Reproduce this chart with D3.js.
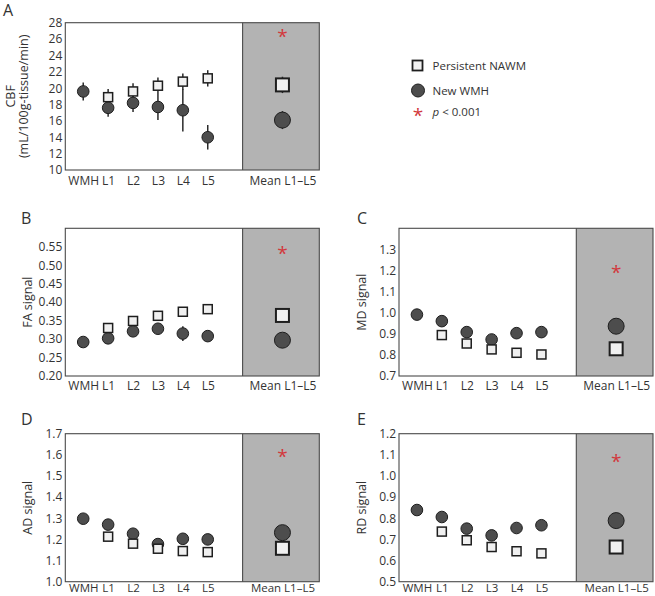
<!DOCTYPE html>
<html><head><meta charset="utf-8">
<script src="https://cdn.jsdelivr.net/npm/d3@7"></script>
<style>
body{margin:0;background:#fff;}
svg{display:block;font-family:"Open Sans",sans-serif;}
</style></head>
<body><svg id="c" width="655" height="596"></svg>
<script>
// ---- data ----
const categories = ["WMH","L1","L2","L3","L4","L5","Mean L1–L5"];
const cbfNew     = [19.6, 17.6, 18.2, 17.7, 17.3, 14.0, 16.1];
const cbfNewErr  = [1.1, 1.1, 1.1, 1.6, 2.6, 1.5, 1.1];
const cbfNawm    = [null, 18.9, 19.6, 20.3, 20.8, 21.2, 20.4];
const cbfNawmErr = [null, 1.0, 1.0, 1.0, 1.0, 1.0, 1.0];
const faNew      = [0.292, 0.302, 0.321, 0.328, 0.315, 0.308, 0.297];
const faNewErr   = [0, 0, 0, 0, 0.02, 0.01, 0];
const faNawm     = [null, 0.330, 0.349, 0.363, 0.374, 0.381, 0.364];
const mdNew      = [0.991, 0.960, 0.908, 0.873, 0.903, 0.908, 0.936];
const mdNawm     = [null, 0.894, 0.854, 0.826, 0.810, 0.802, 0.829];
const adNew      = [1.298, 1.270, 1.227, 1.178, 1.203, 1.200, 1.232];
const adNawm     = [null, 1.213, 1.180, 1.156, 1.145, 1.140, 1.158];
const rdNew      = [0.839, 0.806, 0.751, 0.719, 0.754, 0.767, 0.789];
const rdNawm     = [null, 0.737, 0.696, 0.664, 0.644, 0.634, 0.664];
const starValues = {A: 26.7, B: 0.541, C: 1.209, D: 1.607, E: 1.084};
const cbfTicks = [10,12,14,16,18,20,22,24,26,28];
const faTicks  = [0.20,0.25,0.30,0.35,0.40,0.45,0.50,0.55];
const mdTicks  = [0.7,0.8,0.9,1.0,1.1,1.2,1.3];
const adTicks  = [1.0,1.1,1.2,1.3,1.4,1.5,1.6,1.7];
const rdTicks  = [0.5,0.6,0.7,0.8,0.9,1.0,1.1,1.2];
const legendLabels = ["Persistent NAWM","New WMH"];

// ---- layout ----
const svg = d3.select("#c");
const W = 254;
const panels = [
  {id:"A", left:65.3, top:22.7, h:147.3, dom:[10,28], ticks:cbfTicks, fmt:d3.format("d"),
   nw:cbfNew, nwE:cbfNewErr, pn:cbfNawm, pnE:cbfNawmErr, ylab:["CBF","(mL/100g-tissue/min)"], squaresFirst:true,
   lx:3, ly:16, pad:6.5, xfs:12},
  {id:"B", left:65.3, top:228.3, h:147.7, dom:[0.2,0.6], ticks:faTicks, fmt:d3.format(".2f"),
   nw:faNew, nwE:faNewErr, pn:faNawm, pnE:null, ylab:["FA signal"], lx:21, ly:224, pad:5.5, xfs:12},
  {id:"C", left:399, top:228.3, h:147.7, dom:[0.7,1.4], ticks:mdTicks, fmt:d3.format(".1f"),
   nw:mdNew, nwE:null, pn:mdNawm, pnE:null, ylab:["MD signal"], lx:357, ly:224, pad:5.5, xfs:12},
  {id:"D", left:65.3, top:433.7, h:148, dom:[1.0,1.7], ticks:adTicks, fmt:d3.format(".1f"),
   nw:adNew, nwE:null, pn:adNawm, pnE:null, ylab:["AD signal"], lx:21, ly:425, pad:2.5, xfs:11.5},
  {id:"E", left:399, top:433.7, h:148, dom:[0.5,1.2], ticks:rdTicks, fmt:d3.format(".1f"),
   nw:rdNew, nwE:null, pn:rdNawm, pnE:null, ylab:["RD signal"], lx:357, ly:425, pad:2.5, xfs:11.5}
];
// category slot: first six consecutive, mean after a gap
const slot = i => i < 6 ? i : 8;
const x = d3.scaleLinear().domain([-0.72, 9.48]).range([0, W]);
const divider = 6.4;

const circFill = "#4d4d4d", circStroke = "#1e1e1e";
const sqFill = "#f0f0f0", sqStroke = "#1e1e1e";
const starColor = "#d2383c";
const txt = "#333";

panels.forEach(p => {
  const g = svg.append("g").attr("transform", `translate(${p.left},${p.top})`);
  const y = d3.scaleLinear().domain(p.dom).range([p.h, 0]);
  // gray region
  g.append("rect").attr("x", x(divider)).attr("y", 0)
    .attr("width", W - x(divider)).attr("height", p.h).attr("fill", "#b3b3b3");
  // frame + divider
  g.append("rect").attr("x", 0).attr("y", 0).attr("width", W).attr("height", p.h)
    .attr("fill", "none").attr("stroke", "#4a4a4a").attr("stroke-width", 1.1);
  g.append("line").attr("x1", x(divider)).attr("x2", x(divider)).attr("y1", 0).attr("y2", p.h)
    .attr("stroke", "#4a4a4a").attr("stroke-width", 1.1);
  // y axis
  const ya = g.append("g").call(d3.axisLeft(y).tickValues(p.ticks).tickFormat(p.fmt).tickSize(0).tickPadding(3));
  ya.select(".domain").remove();
  ya.selectAll("text").attr("fill", txt).style("font-size", "12px").style("font-family", "Open Sans");
  // x axis labels
  const xa = g.append("g").attr("transform", `translate(0,${p.h})`)
    .call(d3.axisBottom(x).tickValues(categories.map((c, i) => slot(i)))
      .tickFormat((d, i) => categories[i]).tickSize(0).tickPadding(p.pad));
  xa.select(".domain").remove();
  xa.selectAll("text").attr("fill", txt).style("font-size", p.xfs + "px").style("font-family", "Open Sans");
  // y label
  const cy = p.h / 2;
  if (p.ylab.length === 2) {
    g.append("text").attr("transform", `translate(${-p.left + 10},${cy}) rotate(-90)`)
      .attr("text-anchor", "middle").attr("dominant-baseline", "central")
      .attr("fill", txt).style("font-size", "12.5px").text(p.ylab[0]);
    g.append("text").attr("transform", `translate(${-p.left + 23},${cy}) rotate(-90)`)
      .attr("text-anchor", "middle").attr("dominant-baseline", "central")
      .attr("fill", txt).style("font-size", "12.5px").text(p.ylab[1]);
  } else {
    g.append("text").attr("transform", `translate(${-38},${cy}) rotate(-90)`)
      .attr("text-anchor", "middle").attr("dominant-baseline", "central")
      .attr("fill", txt).style("font-size", "12.5px").text(p.ylab[0]);
  }
  // panel letter
  svg.append("text").attr("x", p.lx).attr("y", p.ly).attr("fill", txt)
    .style("font-size", "16px").text(p.id);

  // error bars
  const errs = [];
  p.nw.forEach((v, i) => { if (p.nwE && p.nwE[i]) errs.push({i, v, e: p.nwE[i]}); });
  p.pn.forEach((v, i) => { if (v != null && p.pnE && p.pnE[i]) errs.push({i, v, e: p.pnE[i]}); });
  g.selectAll(".err").data(errs).join("line")
    .attr("x1", d => x(slot(d.i))).attr("x2", d => x(slot(d.i)))
    .attr("y1", d => y(d.v - d.e)).attr("y2", d => y(d.v + d.e))
    .attr("stroke", "#2a2a2a").attr("stroke-width", 1.5);

  const drawSquares = () => {
    g.selectAll(".sq").data(p.pn.map((v, i) => ({v, i})).filter(d => d.v != null)).join("rect")
      .attr("class", "sq")
      .attr("x", d => x(slot(d.i)) - (d.i === 6 ? 6.5 : 4.5))
      .attr("y", d => y(d.v) - (d.i === 6 ? 6.5 : 4.5))
      .attr("width", d => d.i === 6 ? 13 : 9).attr("height", d => d.i === 6 ? 13 : 9)
      .attr("fill", sqFill).attr("stroke", sqStroke).attr("stroke-width", d => d.i === 6 ? 2 : 1.5);
  };
  const drawCircles = () => {
    g.selectAll(".ci").data(p.nw.map((v, i) => ({v, i}))).join("circle")
      .attr("class", "ci")
      .attr("cx", d => x(slot(d.i))).attr("cy", d => y(d.v))
      .attr("r", d => d.i === 6 ? 8 : 5.8)
      .attr("fill", circFill).attr("stroke", circStroke).attr("stroke-width", 1);
  };
  if (p.squaresFirst) { drawSquares(); drawCircles(); } else { drawCircles(); drawSquares(); }

  // significance star
  g.append("text").attr("x", x(slot(6))).attr("y", y(starValues[p.id])).attr("dy", 10)
    .attr("text-anchor", "middle").attr("fill", starColor).style("font-size", "19px").text("*");
});

// legend
const lg = svg.append("g");
lg.append("rect").attr("x", 412.5).attr("y", 60.5).attr("width", 10).attr("height", 10)
  .attr("fill", sqFill).attr("stroke", sqStroke).attr("stroke-width", 1.8);
lg.append("text").attr("x", 432.5).attr("y", 70).attr("fill", txt).style("font-size", "11.5px").text(legendLabels[0]);
lg.append("circle").attr("cx", 418).attr("cy", 90.5).attr("r", 6.5)
  .attr("fill", circFill).attr("stroke", circStroke).attr("stroke-width", 1);
lg.append("text").attr("x", 432.5).attr("y", 95).attr("fill", txt).style("font-size", "11.5px").text(legendLabels[1]);
lg.append("text").attr("x", 418).attr("y", 112).attr("dy", 10).attr("text-anchor", "middle")
  .attr("fill", starColor).style("font-size", "19px").text("*");
const pt = lg.append("text").attr("x", 432.5).attr("y", 116).attr("fill", txt).style("font-size", "11.5px");
pt.append("tspan").style("font-style", "italic").text("p");
pt.append("tspan").text(" < 0.001");
</script>
</body></html>
